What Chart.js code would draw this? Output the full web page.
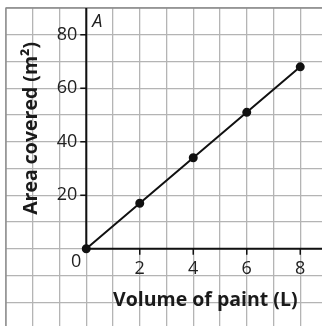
<!DOCTYPE html>
<html>
<head>
<meta charset="utf-8">
<script src="https://cdn.jsdelivr.net/npm/chart.js@4"></script>
<style>
  html, body { margin: 0; padding: 0; overflow: hidden; background: #fff; }
  #frame { width: 322px; height: 326px; overflow: hidden; position: relative; }
  canvas { display: block; }
</style>
</head>
<body>
<div id="frame"><canvas id="grafica" width="327" height="329"></canvas></div>
<script>
// paint data: litres used -> square metres covered
const volume = [0, 2, 4, 6, 8];
const area = [0, 17, 34, 51, 68];
const xTickValues = [2, 4, 6, 8];
const yTickValues = [20, 40, 60, 80];
const xTitle = "Volume of paint (L)";
const yTitle = "Area covered (m²)";

const FONT = '"Open Sans", "Noto Sans", sans-serif';

// axes through the origin, tick labels and titles
const axesPlugin = {
    id: 'axesPlugin',
    beforeDatasetsDraw(chart) {
        const c = chart.ctx;
        const xs = chart.scales.x;
        const ys = chart.scales.y;
        const box = chart.chartArea;
        const x0 = xs.getPixelForValue(0);
        const y0 = ys.getPixelForValue(0);

        c.save();
        // outer edge of the grid
        c.strokeStyle = '#8a8a8a';
        c.lineWidth = 1.3;
        c.beginPath();
        c.moveTo(box.left, box.bottom);
        c.lineTo(box.left, box.top);
        c.lineTo(box.right, box.top);
        c.stroke();

        // axis lines
        c.strokeStyle = '#111';
        c.lineWidth = 2;
        c.beginPath();
        c.moveTo(x0, box.top);
        c.lineTo(x0, y0);
        c.lineTo(box.right, y0);
        c.stroke();

        // tick marks
        c.lineWidth = 1.5;
        c.beginPath();
        xTickValues.forEach(v => {
            const px = xs.getPixelForValue(v);
            c.moveTo(px, y0);
            c.lineTo(px, y0 + 6);
        });
        yTickValues.forEach(v => {
            const py = ys.getPixelForValue(v);
            c.moveTo(x0 - 6, py);
            c.lineTo(x0, py);
        });
        c.stroke();

        // tick labels
        c.fillStyle = '#222';
        c.font = '18px ' + FONT;
        c.textAlign = 'center';
        c.textBaseline = 'middle';
        xTickValues.forEach(v => {
            c.fillText(String(v), xs.getPixelForValue(v), y0 + 20);
        });
        c.fillText('0', x0 - 10, y0 + 13);
        c.textAlign = 'right';
        yTickValues.forEach(v => {
            c.fillText(String(v), x0 - 9, ys.getPixelForValue(v));
        });

        // variable names
        c.font = 'italic 18px ' + FONT;
        c.textAlign = 'left';
        c.fillText('A', x0 + 6, box.top + 14);
        c.fillText('p', xs.getPixelForValue(8.5) + 13, y0 - 11);

        // titles
        c.fillStyle = '#1a1a1a';
        c.font = 'bold 19.5px ' + FONT;
        c.textAlign = 'center';
        c.fillText(xTitle, xs.getPixelForValue(4.45), y0 + 52);
        c.translate(xs.getPixelForValue(-2.05), ys.getPixelForValue(45));
        c.rotate(-Math.PI / 2);
        c.fillText(yTitle, 0, 0);
        c.restore();
    }
};

const gridScale = (min, max, step, horizontal) => ({
    type: 'linear',
    min: min,
    max: max,
    ticks: { display: false, stepSize: step },
    grid: { color: '#b4b4b4', lineWidth: 1.3, drawTicks: false },
    border: { display: false },
    afterFit(scale) {
        if (horizontal) scale.height = 0; else scale.width = 0;
    }
});

const ctx = document.getElementById('grafica').getContext('2d');
new Chart(ctx, {
    type: 'line',
    data: {
        datasets: [{
            data: volume.map((v, i) => ({ x: v, y: area[i] })),
            borderColor: '#111',
            borderWidth: 2,
            backgroundColor: '#111',
            pointRadius: 3.5,
            pointHoverRadius: 3.5,
            fill: false,
            tension: 0
        }]
    },
    options: {
        responsive: false,
        animation: false,
        events: [],
        layout: { autoPadding: false, padding: { left: 6, top: 8, right: 0, bottom: 0 } },
        plugins: { legend: { display: false }, tooltip: { enabled: false } },
        scales: {
            x: gridScale(-3, 9, 1, true),
            y: gridScale(-30, 90, 10, false)
        }
    },
    plugins: [axesPlugin]
});
</script>
</body>
</html>
